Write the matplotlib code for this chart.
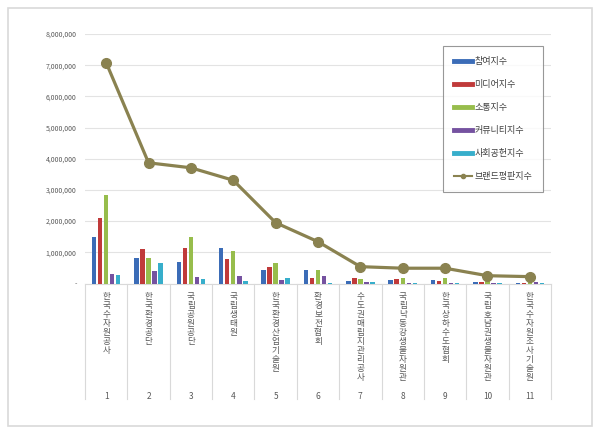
import numpy as np
import matplotlib
matplotlib.use("Agg")
import matplotlib.pyplot as plt
from matplotlib.lines import Line2D
from matplotlib.patches import Rectangle
from matplotlib.ticker import FuncFormatter

plt.rcParams["font.family"] = ["Noto Sans CJK KR", "DejaVu Sans"]

# data
names = ["한국수자원공사", "한국환경공단", "국립공원공단", "국립생태원", "한국환경산업기술원",
         "환경보전협회", "수도권매립지관리공사", "국립낙동강생물자원관", "한국상하수도협회",
         "국립호남권생물자원관", "한국수자원조사기술원"]
ranks = [1, 2, 3, 4, 5, 6, 7, 8, 9, 10, 11]
series_names = ["참여지수", "미디어지수", "소통지수", "커뮤니티지수", "사회공헌지수"]
participation = [1490000, 830000, 680000, 1150000, 420000, 430000, 70000, 100000, 110000, 60000, 30000]
media = [2110000, 1100000, 1130000, 780000, 530000, 170000, 180000, 130000, 80000, 60000, 20000]
communication = [2850000, 830000, 1490000, 1030000, 650000, 440000, 140000, 190000, 170000, 100000, 50000]
community = [290000, 400000, 200000, 240000, 100000, 240000, 40000, 20000, 20000, 10000, 40000]
social = [260000, 650000, 130000, 90000, 190000, 20000, 40000, 10000, 10000, 5000, 10000]
brand = [7080000, 3870000, 3710000, 3310000, 1950000, 1340000, 540000, 490000, 490000, 250000, 220000]

bar_colors = ["#3b6cb7", "#c03a3a", "#97bd4c", "#7552a0", "#37aecb"]
line_color = "#8a8250"

fig = plt.figure(figsize=(6, 4.34), dpi=100)
fig.patches.append(Rectangle((8 / 600, 8 / 434), 584 / 600, 418 / 434, transform=fig.transFigure,
                             fill=False, edgecolor="#d9d9d9", linewidth=1.2))
ax = fig.add_axes([85 / 600, 150.5 / 434, 466 / 600, 249.5 / 434])

x = np.arange(1, len(names) + 1)
pitch = 0.142
width = 0.105
for i, (vals, c) in enumerate(zip([participation, media, communication, community, social], bar_colors)):
    ax.bar(x + (i - 2) * pitch, vals, width=width, color=c, label=series_names[i], zorder=3)

ax.plot(x, brand, color=line_color, linewidth=2.3, marker="o", markersize=7,
        label="브랜드평판지수", zorder=4)

ax.set_xlim(0.5, 11.5)
ax.set_ylim(0, 8000000)
ax.set_yticks(np.arange(0, 8000001, 1000000))
ax.yaxis.set_major_formatter(FuncFormatter(lambda v, p: "-" if v == 0 else f"{int(v):,}"))
ax.tick_params(axis="y", length=0, labelsize=5, labelcolor="#595959", pad=6)
ax.set_xticks([])
ax.grid(axis="y", color="#e3e3e3", linewidth=0.8, zorder=0)
for s in ["top", "right", "left"]:
    ax.spines[s].set_visible(False)
ax.spines["bottom"].set_color("#d9d9d9")

# two level category axis
sep_bottom = -115.5 / 249.5
trans = ax.get_xaxis_transform()
for b in np.arange(0.5, 12, 1):
    ax.plot([b, b], [0, sep_bottom], transform=trans, color="#d9d9d9", linewidth=0.8, clip_on=False)
for xi, name, r in zip(x, names, ranks):
    ax.annotate("\n".join(name), xy=(xi, 0), xycoords=trans, xytext=(0, -6), textcoords="offset points",
                ha="center", va="top", fontsize=6.2, color="#595959", linespacing=1.0)
    ax.annotate(str(r), xy=(xi, 0), xycoords=trans, xytext=(0, -78), textcoords="offset points",
                ha="center", va="top", fontsize=6, color="#595959")

handles = [Line2D([0], [0], color=c, linewidth=3.5) for c in bar_colors]
handles.append(Line2D([0], [0], color=line_color, linewidth=1.5, marker="o", markersize=3))
leg = fig.legend(handles, series_names + ["브랜드평판지수"], loc="upper left",
                 bbox_to_anchor=(443 / 600, 1 - 46 / 434), fontsize=6.5, frameon=True, fancybox=False,
                 edgecolor="#7f7f7f", labelspacing=1.55, handlelength=2.0, handletextpad=0.3,
                 borderpad=1.2, borderaxespad=0, labelcolor="#404040")
leg.get_frame().set_linewidth(0.8)

fig.savefig("out.png", dpi=100)
